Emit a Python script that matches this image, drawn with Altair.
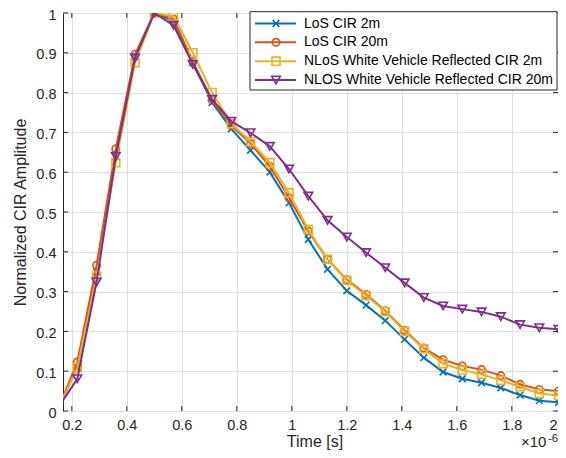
import altair as alt
import pandas as pd

# ---- data (time in units of 1e-6 s) ----
time_us = [0.15, 0.22, 0.29, 0.36, 0.43, 0.50, 0.57, 0.64, 0.71, 0.78, 0.85, 0.92, 0.99, 1.06,
           1.13, 1.20, 1.27, 1.34, 1.41, 1.48, 1.55, 1.62, 1.69, 1.76, 1.83, 1.90, 1.97, 2.04]
los_2m = [0.005, 0.110, 0.350, 0.640, 0.890, 1.000, 0.980, 0.875, 0.775, 0.709, 0.655, 0.600, 0.523, 0.431,
          0.356, 0.302, 0.266, 0.227, 0.180, 0.134, 0.098, 0.081, 0.071, 0.058, 0.040, 0.026, 0.022, 0.022]
los_20m = [0.005, 0.123, 0.366, 0.659, 0.896, 1.000, 0.985, 0.878, 0.781, 0.717, 0.672, 0.615, 0.536, 0.452,
           0.381, 0.330, 0.293, 0.252, 0.203, 0.158, 0.129, 0.113, 0.104, 0.089, 0.067, 0.054, 0.050, 0.048]
nlos_2m = [0.005, 0.109, 0.339, 0.624, 0.875, 1.000, 0.992, 0.900, 0.800, 0.722, 0.677, 0.624, 0.548, 0.456,
           0.381, 0.328, 0.290, 0.250, 0.200, 0.156, 0.119, 0.103, 0.092, 0.077, 0.061, 0.044, 0.039, 0.038]
nlos_20m = [0.008, 0.081, 0.324, 0.640, 0.887, 1.000, 0.969, 0.871, 0.783, 0.728, 0.699, 0.665, 0.608, 0.540,
            0.479, 0.437, 0.398, 0.360, 0.322, 0.285, 0.264, 0.256, 0.249, 0.237, 0.217, 0.209, 0.205, 0.205]

series_names = ["LoS CIR 2m", "LoS CIR 20m",
                "NLoS White Vehicle Reflected CIR 2m", "NLOS White Vehicle Reflected CIR 20m"]
colors = ["#0072BD", "#D95319", "#EDB120", "#7E2F8E"]
shapes = ["M-1,-1L1,1M-1,1L1,-1", "circle", "square", "triangle-down"]
sizes = [45, 75, 60, 110]

x_ticks = [0.2, 0.4, 0.6, 0.8, 1.0, 1.2, 1.4, 1.6, 1.8]
y_ticks = [0, 0.1, 0.2, 0.3, 0.4, 0.5, 0.6, 0.7, 0.8, 0.9, 1.0]

rows = []
for name, vals in zip(series_names, [los_2m, los_20m, nlos_2m, nlos_20m]):
    for t, v in zip(time_us, vals):
        rows.append({"t": t, "v": v, "series": name})
df = pd.DataFrame(rows)
leg_df = pd.DataFrame({"series": series_names})

W, H = 495, 398
AX = "#262626"
FONT = "Liberation Sans"
X0 = 0.168
X1 = X0 + W / 275.0

xscale = alt.Scale(domain=[X0, X1], nice=False, zero=False)
yscale = alt.Scale(domain=[0, 1], nice=False, zero=False)
cscale = alt.Scale(domain=series_names, range=colors)
sscale = alt.Scale(domain=series_names, range=shapes)
zscale = alt.Scale(domain=series_names, range=sizes)

xaxis = alt.Axis(values=x_ticks, format=".1~f", title="Time [s]", grid=True, gridColor="#dfdfdf",
                 gridWidth=1, tickSize=0, domain=False, labelPadding=7, labelFontSize=14.5,
                 labelColor=AX, labelFont=FONT, titleFont=FONT, titleFontSize=16,
                 titleFontWeight="normal", titleColor=AX, titleX=251.5, titleY=35,
                 titleAlign="center", titleBaseline="alphabetic", labelFlush=False)
yaxis = alt.Axis(values=y_ticks, format=".1~f", title="Normalized CIR Amplitude", grid=True,
                 gridColor="#dfdfdf", gridWidth=1, tickSize=0, domain=False, labelPadding=7,
                 labelOffset=2, labelFontSize=14.5, labelColor=AX, labelFont=FONT, titleFont=FONT,
                 titleFontSize=16, titleFontWeight="normal", titleColor=AX, titleX=-38,
                 titleY=H / 2, titleAngle=270, titleAlign="center", titleBaseline="alphabetic",
                 labelFlush=False)

color_enc = alt.Color("series:N", scale=cscale, legend=None)
shape_enc = alt.Shape("series:N", scale=sscale, legend=None)
size_enc = alt.Size("series:N", scale=zscale, legend=None)

layers = []
for name in series_names:
    base = alt.Chart(df).transform_filter(alt.datum.series == name)
    line = base.mark_line(strokeWidth=2, clip=True).encode(
        x=alt.X("t:Q", scale=xscale, axis=xaxis),
        y=alt.Y("v:Q", scale=yscale, axis=yaxis),
        color=color_enc,
    )
    pts = base.mark_point(filled=False, strokeWidth=1.6, clip=True, opacity=1).encode(
        x=alt.X("t:Q", scale=xscale, axis=xaxis),
        y=alt.Y("v:Q", scale=yscale, axis=yaxis),
        color=color_enc, shape=shape_enc, size=size_enc,
    )
    layers += [line, pts]

tick_x = pd.DataFrame({"t": x_ticks})
tick_y = pd.DataFrame({"v": y_ticks})
tx = alt.X("t:Q", scale=xscale, axis=xaxis)
ty = alt.Y("v:Q", scale=yscale, axis=yaxis)
ticks = [
    alt.Chart(tick_x).mark_rule(color=AX, strokeWidth=1).encode(x=tx, y=alt.value(H), y2=alt.value(H - 5)),
    alt.Chart(tick_x).mark_rule(color=AX, strokeWidth=1).encode(x=tx, y=alt.value(0), y2=alt.value(5)),
    alt.Chart(tick_y).mark_rule(color=AX, strokeWidth=1).encode(y=ty, x=alt.value(0), x2=alt.value(5)),
    alt.Chart(tick_y).mark_rule(color=AX, strokeWidth=1).encode(y=ty, x=alt.value(W), x2=alt.value(W - 5)),
]

one = pd.DataFrame({"a": [0]})
last_label = alt.Chart(one).mark_text(align="right", baseline="top", fontSize=14.5, font=FONT,
                                      color=AX).encode(x=alt.value(W - 0.5), y=alt.value(H + 8),
                                                       text=alt.value("2"))
exp_main = alt.Chart(one).mark_text(align="left", baseline="alphabetic", fontSize=15, font=FONT,
                                    color=AX).encode(x=alt.value(458), y=alt.value(434),
                                                     text=alt.value("×10"))
exp_sup = alt.Chart(one).mark_text(align="left", baseline="alphabetic", fontSize=11.5, font=FONT,
                                   color=AX).encode(x=alt.value(485), y=alt.value(429),
                                                    text=alt.value("-6"))

# ---- legend (drawn by hand, inside the plot's top-right corner) ----
row_y = [10.5, 29.3, 48.2, 67.0]
legend_layers = [alt.Chart(one).mark_rect(fill="white", stroke=AX, strokeWidth=1).encode(
    x=alt.value(187), x2=alt.value(W - 1), y=alt.value(-1.3), y2=alt.value(77))]
for name, ry in zip(series_names, row_y):
    lb = alt.Chart(leg_df).transform_filter(alt.datum.series == name)
    legend_layers += [
        lb.mark_rule(strokeWidth=2).encode(x=alt.value(192), x2=alt.value(233), y=alt.value(ry),
                                           color=color_enc),
        lb.mark_point(filled=False, strokeWidth=1.6, opacity=1).encode(
            x=alt.value(213), y=alt.value(ry), color=color_enc, shape=shape_enc, size=size_enc),
        lb.mark_text(align="left", baseline="middle", fontSize=14, font=FONT, color="#000000").encode(
            x=alt.value(241), y=alt.value(ry), text="series:N"),
    ]

chart = alt.layer(*layers, *ticks, last_label, exp_main, exp_sup, *legend_layers).properties(
    width=W, height=H,
    autosize=alt.AutoSizeParams(type="none"),
    padding={"left": 55, "top": 5, "right": 0, "bottom": 39},
    background="white",
).configure_view(stroke=AX, strokeWidth=1)

chart.save("out.html", embed_options={"renderer": "svg", "actions": False})
